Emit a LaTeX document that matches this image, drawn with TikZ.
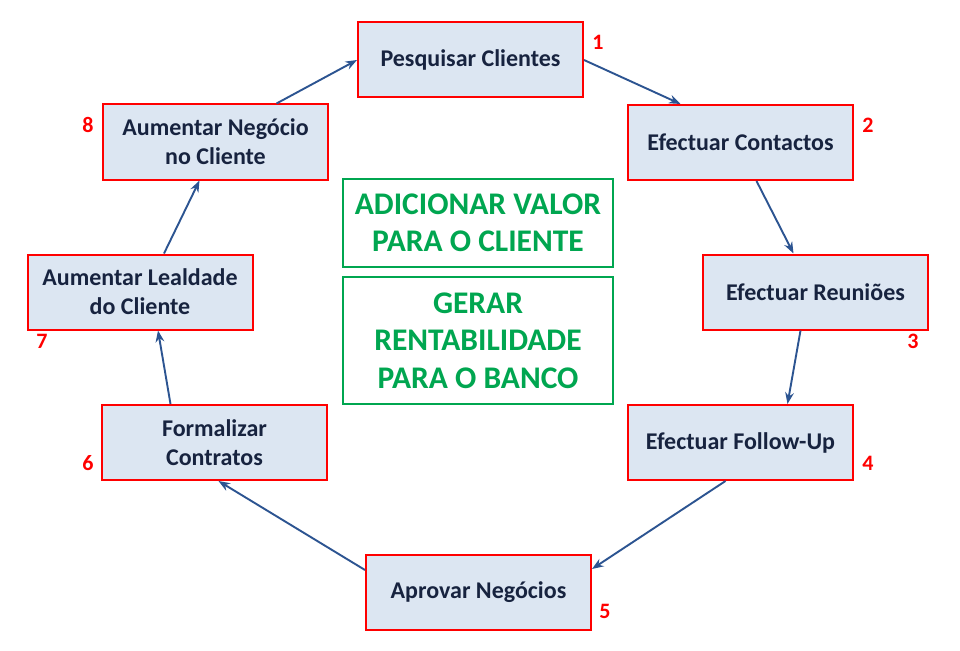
\documentclass[tikz,border=0pt]{standalone}
\usepackage{fontspec}
\setmainfont{Carlito}
\usetikzlibrary{arrows.meta}

\definecolor{boxfill}{HTML}{DCE6F2}
\definecolor{boxtext}{HTML}{17233F}
\definecolor{boxred}{HTML}{FF0000}
\definecolor{arrowblue}{HTML}{2C5491}
\definecolor{valgreen}{HTML}{00A650}

\begin{document}
\begin{tikzpicture}[x=1pt, y=-1pt,
    passo/.style={draw=boxred, line width=2pt, fill=boxfill, minimum width=225pt, minimum height=75pt,
        inner sep=0pt, align=center, font=\bfseries\fontsize{24}{29}\selectfont, text=boxtext},
    meta/.style={draw=valgreen, line width=2.4pt, minimum width=270pt, align=center, inner sep=0pt,
        font=\bfseries\fontsize{31.5}{37.5}\selectfont, text=valgreen},
    num/.style={text=boxred, font=\bfseries\fontsize{22}{22}\selectfont},
    seta/.style={->, >=Stealth, draw=arrowblue, line width=1.9pt}]
    \useasboundingbox (0,0) rectangle (960,650);
    \fill[white] (0,0) rectangle (960,650);
    % passos do ciclo
    \node [passo] (p1) at (470.5,60) {Pesquisar Clientes};
    \node [passo] (p2) at (740.5,142.5) {Efectuar Contactos};
    \node [passo] (p3) at (815.5,292) {Efectuar Reuniões};
    \node [passo] (p4) at (740.5,442.5) {Efectuar Follow-Up};
    \node [passo] (p5) at (478.5,592) {Aprovar Negócios};
    \node [passo] (p6) at (214.5,442.5) {Formalizar\\Contratos};
    \node [passo] (p7) at (140,292) {Aumentar Lealdade\\do Cliente};
    \node [passo] (p8) at (215.5,142) {Aumentar Negócio\\no Cliente};
    % numeros
    \node [num] (n1) at (598,42) {1};
    \node [num] (n2) at (868,125) {2};
    \node [num] (n3) at (913,341) {3};
    \node [num] (n4) at (868,463) {4};
    \node [num] (n5) at (605,611) {5};
    \node [num] (n6) at (88,463) {6};
    \node [num] (n7) at (42,341) {7};
    \node [num] (n8) at (88,125) {8};
    % centro
    \node [meta, minimum height=88pt] (valor) at (478,223) {ADICIONAR VALOR\\PARA O CLIENTE};
    \node [meta, minimum height=127pt] (banco) at (478,340.5) {GERAR\\RENTABILIDADE\\PARA O BANCO};
    % setas
    \draw [seta] (p1.east) -- ([xshift=-60pt]p2.north);
    \draw [seta] ([xshift=16pt]p2.south) -- ([xshift=-22pt]p3.north);
    \draw [seta] ([xshift=-15pt]p3.south) -- ([xshift=47pt]p4.north);
    \draw [seta] ([xshift=-15pt]p4.south) -- ([yshift=23pt]p5.east);
    \draw [seta] ([yshift=22pt]p5.west) -- ([xshift=4pt]p6.south);
    \draw [seta] ([xshift=-44pt]p6.north) -- ([xshift=18pt]p7.south);
    \draw [seta] ([xshift=24pt]p7.north) -- ([xshift=-16pt]p8.south);
    \draw [seta] ([xshift=61pt]p8.north) -- (p1.west);
\end{tikzpicture}
\end{document}
